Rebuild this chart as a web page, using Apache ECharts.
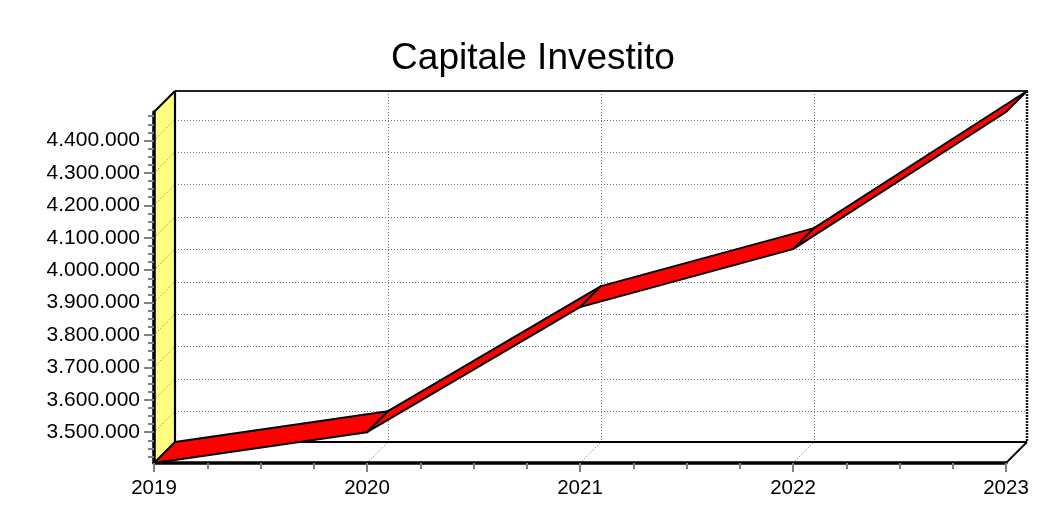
<!DOCTYPE html>
<html>
<head>
<meta charset="utf-8">
<title>Capitale Investito</title>
<script src="https://cdn.jsdelivr.net/npm/echarts@6/dist/echarts.min.js"></script>
<style>
  html, body { margin: 0; padding: 0; background: #ffffff; }
  #chart { width: 1047px; height: 518px; }
</style>
</head>
<body>
<div id="chart"></div>
<script>
// Years on the horizontal axis
const years = [2019, 2020, 2021, 2022, 2023];
// Invested capital per year
const capitale = [3405000, 3500000, 3886000, 4065000, 4488000];
// Labelled values on the vertical axis
const yTickValues = [3500000, 3600000, 3700000, 3800000, 3900000, 4000000, 4100000, 4200000, 4300000, 4400000];

const yMin = Math.min.apply(null, capitale);
const yMax = Math.max.apply(null, capitale);

// Minor ticks: quarter steps between labelled values, kept inside the axis range
const yMinorValues = [];
yTickValues.forEach(function (v) {
  [-75000, -50000, -25000, 25000, 50000, 75000].forEach(function (d) {
    const m = v + d;
    if (m > yMin && m < yMax && yTickValues.indexOf(m) < 0 && yMinorValues.indexOf(m) < 0) yMinorValues.push(m);
  });
});

// 3D depth offset of the back wall (pixels)
const DX = 21, DY = -21;
const FONT = 'Liberation Sans, Arial, Helvetica, sans-serif';

function fmt(v) {
  return String(v).replace(/\B(?=(\d{3})+(?!\d))/g, '.');
}

// snap a coordinate to the pixel centre so 1px lines stay sharp
function px(v) { return Math.round(v) + 0.5; }

function seg(a, b, style) {
  return { type: 'line', shape: { x1: a[0], y1: a[1], x2: b[0], y2: b[1] }, style: style };
}

// Walls, floor and dotted grid of the 3D box
function renderFrame(params, api) {
  const x0 = years[0], x1 = years[years.length - 1];
  const fbl = api.coord([x0, yMin]);
  const ftr = api.coord([x1, yMax]);
  const L = fbl[0], B = fbl[1], R = ftr[0], T = ftr[1];
  const bl = L + DX, br = R + DX, bt = T + DY, bb = B + DY;
  const dotted = { stroke: '#707070', lineWidth: 1, lineDash: [1, 2], fill: null };
  const edge = { stroke: '#000000', lineWidth: 2.2, fill: null };
  const children = [];

  children.push({ type: 'rect', shape: { x: bl, y: bt, width: br - bl, height: bb - bt }, style: { fill: '#ffffff' } });
  children.push({ type: 'polygon', shape: { points: [[L, T], [bl, bt], [bl, bb], [L, B]] }, style: { fill: '#ffff80' } });

  yTickValues.forEach(function (v) {
    const p = api.coord([x0, v]);
    const yb = px(p[1] + DY);
    children.push(seg([bl, yb], [br, yb], dotted));
    children.push(seg([L, p[1]], [bl, p[1] + DY], dotted));
  });
  years.slice(1, -1).forEach(function (yr) {
    const p = api.coord([yr, yMin]);
    const xb = px(p[0] + DX);
    children.push(seg([xb, bt], [xb, bb], dotted));
    children.push(seg([p[0], B], [p[0] + DX, bb], dotted));
  });

  children.push(seg([bl, bt], [br, bt], { stroke: '#222222', lineWidth: 2.2, fill: null }));
  children.push(seg([bl, bt], [bl, bb], edge));
  children.push(seg([bl, bb], [br, bb], edge));
  children.push(seg([br, bt], [br, bb], { stroke: '#1a1a1a', lineWidth: 2.5, lineDash: [2, 1], fill: null }));
  children.push(seg([L, T], [bl, bt], edge));
  children.push(seg([R, B], [br, bb], { stroke: '#000000', lineWidth: 1.8, fill: null }));

  return { type: 'group', children: children };
}

// One ribbon face per year-to-year segment
function renderRibbon(params, api) {
  const a = api.coord([api.value(0), api.value(1)]);
  const b = api.coord([api.value(2), api.value(3)]);
  return {
    type: 'polygon',
    shape: { points: [a, b, [b[0] + DX, b[1] + DY], [a[0] + DX, a[1] + DY]] },
    style: { fill: '#ff0000', stroke: '#000000', lineWidth: 2, lineJoin: 'round' }
  };
}

const segments = years.slice(0, -1).map(function (yr, i) {
  return [yr, capitale[i], years[i + 1], capitale[i + 1]];
});

const chart = echarts.init(document.getElementById('chart'), null, { renderer: 'canvas' });

chart.setOption({
  backgroundColor: '#ffffff',
  animation: false,
  graphic: [{
    type: 'text',
    x: 533, y: 59,
    style: { text: 'Capitale Investito', fontSize: 37, fontFamily: FONT, fill: '#000000', align: 'center', verticalAlign: 'middle' }
  }],
  grid: { left: 154, right: 41, top: 112, bottom: 55, containLabel: false, outerBoundsMode: 'none' },
  xAxis: {
    type: 'value',
    min: years[0],
    max: years[years.length - 1],
    interval: 1,
    z: 5,
    axisLine: { show: true, onZero: false, lineStyle: { color: '#000000', width: 3.5 } },
    axisTick: { show: true, length: 9, lineStyle: { color: '#808080', width: 2 } },
    minorTick: { show: true, splitNumber: 4, length: 6, lineStyle: { color: '#808080', width: 2 } },
    axisLabel: { color: '#000000', fontSize: 20.5, fontFamily: FONT, margin: 15, formatter: function (v) { return String(v); } },
    splitLine: { show: false },
    minorSplitLine: { show: false }
  },
  yAxis: [{
    type: 'value',
    min: yMin,
    max: yMax,
    z: 5,
    axisLine: { show: true, onZero: false, lineStyle: { color: '#000000', width: 3.5 } },
    axisTick: { show: true, length: 10, customValues: yTickValues, lineStyle: { color: '#808080', width: 2 } },
    axisLabel: { color: '#000000', fontSize: 21, fontFamily: FONT, margin: 14, customValues: yTickValues, formatter: fmt },
    splitLine: { show: false }
  }, {
    type: 'value',
    min: yMin,
    max: yMax,
    position: 'left',
    z: 5,
    axisLine: { show: false },
    axisTick: { show: true, length: 6, customValues: yMinorValues, lineStyle: { color: '#808080', width: 2 } },
    axisLabel: { show: false },
    splitLine: { show: false }
  }],
  series: [{
    type: 'custom',
    name: 'frame',
    z: 1,
    clip: false,
    silent: true,
    renderItem: renderFrame,
    data: [[years[0], yMin]],
    encode: { x: 0, y: 1 }
  }, {
    type: 'custom',
    name: 'Capitale Investito',
    z: 3,
    clip: false,
    renderItem: renderRibbon,
    data: segments,
    encode: { x: [0, 2], y: [1, 3] }
  }]
});
</script>
</body>
</html>
